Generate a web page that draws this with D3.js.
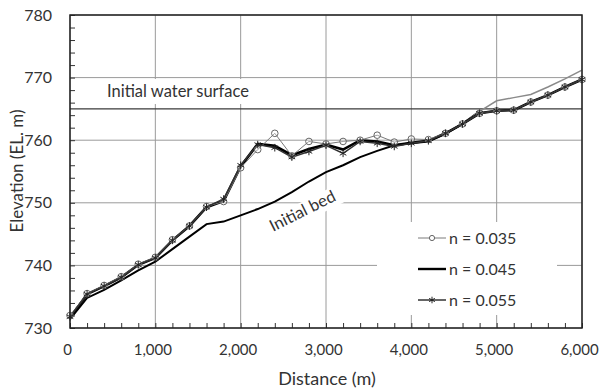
<!DOCTYPE html>
<html>
<head>
<meta charset="utf-8">
<script src="https://cdn.jsdelivr.net/npm/d3@7"></script>
<style>
  body { margin: 0; background: #fff; }
  svg text { font-family: Lato, "Open Sans", sans-serif; fill: #333; }
</style>
</head>
<body>
<svg width="599" height="391"></svg>
<script>
// distance along channel (m)
var distance = [0, 200, 400, 600, 800, 1000, 1200, 1400, 1600, 1800, 2000, 2200, 2400, 2600, 2800, 3000,
                3200, 3400, 3600, 3800, 4000, 4200, 4400, 4600, 4800, 5000, 5200, 5400, 5600, 5800, 6000];

// bed elevation (El. m) for each roughness
var n035 = [732.0, 735.5, 736.8, 738.2, 740.2, 741.3, 744.1, 746.3, 749.4, 750.2, 755.6, 758.5, 761.1, 757.5, 759.8, 759.4,
            759.8, 760.0, 760.8, 759.7, 760.2, 760.1, 761.1, 762.6, 764.3, 764.7, 764.8, 766.1, 767.2, 768.5, 769.7];
var n045 = [731.6, 735.4, 736.7, 738.1, 740.1, 741.2, 744.0, 746.3, 749.3, 750.3, 755.8, 759.4, 759.1, 757.6, 758.6, 759.3,
            758.5, 760.0, 759.8, 759.2, 759.6, 759.9, 761.1, 762.6, 764.3, 764.7, 764.8, 766.1, 767.2, 768.5, 769.7];
var n055 = [731.8, 735.4, 736.7, 738.1, 740.1, 741.2, 744.0, 746.3, 749.3, 750.6, 756.0, 759.3, 758.8, 757.3, 758.2, 759.2,
            757.9, 759.8, 759.5, 759.0, 759.5, 759.9, 761.1, 762.6, 764.3, 764.7, 764.8, 766.1, 767.2, 768.5, 769.7];
var initialBed = [731.4, 734.8, 736.1, 737.6, 739.2, 740.6, 742.6, 744.6, 746.6, 747.0, 748.0, 749.0, 750.2, 751.7, 753.4, 754.9,
                  756.0, 757.3, 758.3, 759.2, 759.5, 759.8, 761.0, 762.6, 764.6, 766.3, 766.8, 767.3, 768.5, 769.8, 771.2];
var waterSurface = 765;

var xTicks = [0, 1000, 2000, 3000, 4000, 5000, 6000];
var yTicks = [730, 740, 750, 760, 770, 780];
var legendLabels = ["n = 0.035", "n = 0.045", "n = 0.055"];

var svg = d3.select("svg");
var pL = 70, pT = 15, pR = 582, pB = 328;

var x = d3.scaleLinear().domain([0, 6000]).range([pL, pR]);
var y = d3.scaleLinear().domain([730, 780]).range([pB, pT]);

// grid
svg.append("g").selectAll("line").data(xTicks).enter().append("line")
  .attr("x1", function(d){ return x(d); }).attr("x2", function(d){ return x(d); })
  .attr("y1", pT).attr("y2", pB)
  .attr("stroke", "#9a9a9a").attr("stroke-width", 1);
svg.append("g").selectAll("line").data(yTicks).enter().append("line")
  .attr("x1", pL).attr("x2", pR)
  .attr("y1", function(d){ return y(d); }).attr("y2", function(d){ return y(d); })
  .attr("stroke", "#9a9a9a").attr("stroke-width", 1);

// minor ticks (inside)
var xAxis = d3.axisBottom(x).tickValues(d3.range(0, 6001, 200)).tickSize(-5).tickFormat("");
svg.append("g").attr("transform", "translate(0," + pB + ")").call(xAxis)
  .call(function(g){ g.select(".domain").remove(); g.selectAll("line").attr("stroke", "#333"); });
var yAxis = d3.axisLeft(y).tickValues(d3.range(730, 781, 2)).tickSize(-5).tickFormat("");
svg.append("g").attr("transform", "translate(" + pL + ",0)").call(yAxis)
  .call(function(g){ g.select(".domain").remove(); g.selectAll("line").attr("stroke", "#333"); });

// tick labels
svg.append("g").selectAll("text").data(xTicks).enter().append("text")
  .attr("x", function(d){ return x(d) - 2.5; }).attr("y", 355)
  .attr("text-anchor", "middle").style("font-size", "15px")
  .text(d3.format(","));
svg.append("g").selectAll("text").data(yTicks).enter().append("text")
  .attr("x", 52).attr("y", function(d){ return y(d) + 5.5; })
  .attr("text-anchor", "end").style("font-size", "16px")
  .text(function(d){ return d; });

// initial water surface
svg.append("line")
  .attr("x1", x(0)).attr("x2", x(6000))
  .attr("y1", y(waterSurface)).attr("y2", y(waterSurface))
  .attr("stroke", "#3a3a3a").attr("stroke-width", 1.3);
svg.append("rect").attr("x", 95).attr("y", 79).attr("width", 170).attr("height", 25).attr("fill", "#fff");
svg.append("text").attr("x", 107).attr("y", 97).style("font-size", "16.5px").text("Initial water surface");

var line = d3.line().x(function(d){ return x(d[0]); }).y(function(d){ return y(d[1]); });
function pts(arr){ return arr.map(function(v, i){ return [distance[i], v]; }); }

// initial bed: black downstream, grey where it stays above the new bed
var bedPts = pts(initialBed);
svg.append("path").datum(bedPts.slice(0, 25)).attr("d", line)
  .attr("fill", "none").attr("stroke", "#000").attr("stroke-width", 2);
svg.append("path").datum(bedPts.slice(23)).attr("d", line)
  .attr("fill", "none").attr("stroke", "#8a8a8a").attr("stroke-width", 1.5);

// "Initial bed" label
var bedLabel = svg.append("g").attr("transform", "translate(305,216) rotate(-26.5)");
bedLabel.append("rect").attr("x", -41).attr("y", -14).attr("width", 82).attr("height", 19).attr("fill", "#fff");
bedLabel.append("text").attr("text-anchor", "middle").style("font-size", "16.5px").text("Initial bed");

// results
svg.append("path").datum(pts(n045)).attr("d", line)
  .attr("fill", "none").attr("stroke", "#000").attr("stroke-width", 2.6);
svg.append("path").datum(pts(n035)).attr("d", line)
  .attr("fill", "none").attr("stroke", "#7a7a7a").attr("stroke-width", 1);
svg.append("path").datum(pts(n055)).attr("d", line)
  .attr("fill", "none").attr("stroke", "#333").attr("stroke-width", 1.5);

svg.append("g").selectAll("circle").data(pts(n035)).enter().append("circle")
  .attr("cx", function(d){ return x(d[0]); }).attr("cy", function(d){ return y(d[1]); })
  .attr("r", 3.3).attr("fill", "#fff").attr("fill-opacity", 0.3)
  .attr("stroke", "#666").attr("stroke-width", 1);
var star = d3.symbol().type(d3.symbolAsterisk).size(40);
svg.append("g").selectAll("path").data(pts(n055)).enter().append("path")
  .attr("d", star)
  .attr("transform", function(d){ return "translate(" + x(d[0]) + "," + y(d[1]) + ")"; })
  .attr("fill", "none").attr("stroke", "#222").attr("stroke-width", 1);

// frame
svg.append("rect").attr("x", pL).attr("y", pT).attr("width", pR - pL).attr("height", pB - pT)
  .attr("fill", "none").attr("stroke", "#222").attr("stroke-width", 1.5);

// legend
var lg = svg.append("g");
lg.append("rect").attr("x", 377).attr("y", 222).attr("width", 180).attr("height", 93).attr("fill", "#fff");
var rows = lg.selectAll("g").data(legendLabels).enter().append("g")
  .attr("transform", function(d, i){ return "translate(0," + (238 + i * 31) + ")"; });
rows.append("line").attr("x1", 418).attr("x2", 446).attr("y1", 0).attr("y2", 0)
  .attr("stroke", function(d, i){ return ["#7a7a7a", "#000", "#333"][i]; })
  .attr("stroke-width", function(d, i){ return [1, 2.4, 1.5][i]; });
rows.filter(function(d, i){ return i === 0; }).append("circle")
  .attr("cx", 432).attr("cy", 0).attr("r", 2.6).attr("fill", "#fff").attr("stroke", "#666");
rows.filter(function(d, i){ return i === 2; }).append("path")
  .attr("d", d3.symbol().type(d3.symbolAsterisk).size(30))
  .attr("transform", "translate(432,0)").attr("fill", "none").attr("stroke", "#222");
rows.append("text").attr("x", 449).attr("y", 5.5).style("font-size", "16px").text(function(d){ return d; });

// axis titles
svg.append("text").attr("x", 327).attr("y", 385).attr("text-anchor", "middle")
  .style("font-size", "18px").text("Distance (m)");
svg.append("text").attr("transform", "translate(23,171) rotate(-90)").attr("text-anchor", "middle")
  .style("font-size", "17px").text("Elevation (EL. m)");
</script>
</body>
</html>
